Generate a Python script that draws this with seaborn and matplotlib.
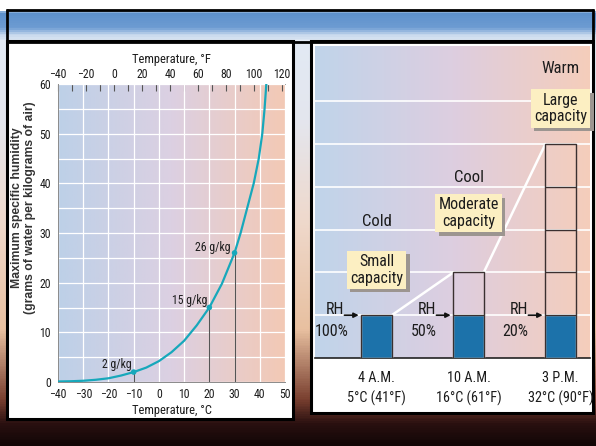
import numpy as np
import pandas as pd
import matplotlib
matplotlib.use('Agg')
import matplotlib.pyplot as plt
import matplotlib.patheffects as pe
import seaborn as sns
from matplotlib.colors import LinearSegmentedColormap
from matplotlib.patches import Rectangle
from matplotlib.ticker import MultipleLocator

# --- datos panel izquierdo (curva de humedad especifica maxima) ---
temp_c = [-40, -35, -30, -25, -20, -15, -10, -5, 0, 5, 10, 15, 20, 25, 30,
          32.4, 35, 37.6, 39.6, 41, 41.9, 42.6]
humidity = [0.1, 0.15, 0.25, 0.45, 0.75, 1.3, 2, 2.9, 4.2, 6.0, 8.3, 11.4, 15,
            19.8, 26, 30, 35, 40, 45, 50, 55, 60]
mark_t = [-10, 20, 30]
mark_q = [2, 15, 26]
mark_labels = ['2 g/kg', '15 g/kg', '26 g/kg']

# --- datos panel derecho (capacidad del aire) ---
time_labels = ['4 A.M.\n5°C (41°F)', '10 A.M.\n16°C (61°F)', '3 P.M.\n32°C (90°F)']
temp_class = ['Cold', 'Cool', 'Warm']
cap_labels = ['Small\ncapacity', 'Moderate\ncapacity', 'Large\ncapacity']
capacity = [1, 2, 5]
vapor = [1, 1, 1]

W, H = 596, 446
NARROW = ['Roboto Condensed', 'Lato', 'DejaVu Sans']
sns.set_style('white')
plt.rcParams['font.family'] = NARROW
TXT = '#1c1c1c'

fig = plt.figure(figsize=(W / 100, H / 100), dpi=100)

# fondo (cielo / atardecer) en coordenadas de pixel
bg = fig.add_axes([0, 0, 1, 1])
bg.set_zorder(-5)
bg_cmap = LinearSegmentedColormap.from_list('bg', [
    (0.0, '#ffffff'), (9 / H, '#ffffff'), (11 / H, '#5b8fcb'), (27 / H, '#6f9dd3'),
    (33 / H, '#c4d6ec'), (40 / H, '#e2eaf4'), (120 / H, '#e4e6ee'), (220 / H, '#efd9cc'),
    (330 / H, '#e8c0a0'), (400 / H, '#7a4030'), (425 / H, '#2a1010'), (1.0, '#120606')])
bg.imshow(np.linspace(0, 1, H)[:, None], cmap=bg_cmap, extent=[0, W, H, 0],
          aspect='auto', vmin=0, vmax=1)
bg.set_xlim(0, W)
bg.set_ylim(H, 0)
bg.axis('off')
bg.hlines([9.5, 41.5], 6, 594, color='black', lw=2)
bg.vlines([7, 593], 9, 42, color='black', lw=2)
bg.add_patch(Rectangle((7, 41), 286, 378, fc='white', ec='black', lw=2.2))
bg.add_patch(Rectangle((311, 41), 282, 372, fc='white', ec='black', lw=2.2))

# ---------------- panel izquierdo ----------------
axL = fig.add_axes([58 / W, 1 - 382 / H, 227 / W, 298 / H])
grad_l = LinearSegmentedColormap.from_list('gl', ['#bdd0e8', '#dcd0e2', '#f3c9b5'])
axL.imshow(np.linspace(0, 1, 256)[None, :], cmap=grad_l, extent=[-40, 50, 0, 60],
           aspect='auto', zorder=0)
sns.lineplot(x=temp_c, y=humidity, ax=axL, color='#17a8bb', lw=1.6,
             estimator=None, sort=False, zorder=3)
axL.vlines(mark_t, 0, mark_q, color='#555555', lw=0.8, zorder=2)
sns.scatterplot(x=mark_t, y=mark_q, ax=axL, color='#17a8bb', s=16,
                edgecolor='none', zorder=4)
label_pos = [(-16.8, 3.6), (12.2, 16.4), (21.4, 27.1)]
for lab, (lx, ly) in zip(mark_labels, label_pos):
    axL.text(lx, ly, lab, ha='center', va='center', fontsize=8.5, color=TXT)

axL.set_xlim(-40, 50)
axL.set_ylim(0, 60)
axL.set_xticks(range(-40, 51, 10))
axL.set_yticks(range(0, 61, 10))
axL.yaxis.set_minor_locator(MultipleLocator(5))
axL.grid(True, which='major', color='white', lw=0.9)
axL.grid(True, which='minor', axis='y', color='white', lw=0.9)
axL.set_axisbelow(True)
axL.tick_params(which='both', length=0, labelsize=8.5, labelcolor=TXT)
axL.tick_params(axis='x', pad=4.5)
axL.tick_params(axis='y', pad=5)
for s in ['right', 'top']:
    axL.spines[s].set_visible(False)
for s in ['left', 'bottom']:
    axL.spines[s].set_color('#8a8a8a')
    axL.spines[s].set_linewidth(0.7)
axL.set_xlabel('Temperature, °C', fontsize=9, color=TXT, labelpad=2)
axL.set_ylabel('Maximum specific humidity\n(grams of water per kilograms of air)',
               fontsize=8.8, fontweight='bold', color='#333333', linespacing=1.15,
               family=['Liberation Sans', 'DejaVu Sans'])
axL.yaxis.set_label_coords(-0.095, 0.585)

sec = axL.secondary_xaxis('top', functions=(lambda c: c * 9 / 5 + 32,
                                            lambda f: (f - 32) * 5 / 9))
sec.set_xticks(range(-40, 121, 20))
sec.xaxis.set_minor_locator(MultipleLocator(10))
sec.tick_params(which='both', direction='in', length=5, width=0.8, color='#555555',
                labelsize=8.5, labelcolor=TXT, pad=2)
sec.spines['top'].set_color('#8a8a8a')
sec.spines['top'].set_linewidth(0.6)
sec.set_xlabel('Temperature, °F', fontsize=9, color=TXT, labelpad=4)

# ---------------- panel derecho ----------------
axR = fig.add_axes([315 / W, 1 - 358 / H, 275 / W, 312 / H])
bar_w = 0.33
x_lo, x_hi, y_hi = -0.67, 2.32, 7.29
grad_r = LinearSegmentedColormap.from_list('gr', ['#c0d4ea', '#ddcee0', '#f5cdbb'])
axR.imshow(np.linspace(0, 1, 256)[None, :], cmap=grad_r, extent=[x_lo, x_hi, 0, y_hi],
           aspect='auto', zorder=0)

df_r = pd.DataFrame({'time': time_labels, 'capacity': capacity, 'vapor': vapor})
sns.barplot(data=df_r, x='time', y='vapor', ax=axR, color='#1c72aa', saturation=1,
            width=bar_w, errorbar=None, zorder=3)
sns.barplot(data=df_r, x='time', y='capacity', ax=axR, color='#3a3030', fill=False,
            width=bar_w, errorbar=None, linewidth=1, zorder=4)
for i, cap in enumerate(capacity):
    if cap > 1:
        axR.hlines(range(1, cap), i - bar_w / 2, i + bar_w / 2, color='#3a3030',
                   lw=1, zorder=4)

# lineas blancas que unen las capacidades
for i in range(len(capacity) - 1):
    axR.plot([i + bar_w / 2, i + 1 - bar_w / 2], [capacity[i], capacity[i + 1]],
             color='white', lw=1.8, zorder=2.5)

shadow_fx = [pe.withSimplePatchShadow(offset=(2.5, -2.5), shadow_rgbFace='#9c9590',
                                      alpha=1.0)]
class_y = [3.18, 4.21, 6.77]
box_y = [2.06, 3.38, 5.83]
for i in range(len(capacity)):
    rh = round(100 * vapor[i] / capacity[i])
    axR.text(i - 0.45, 1.13, 'RH', ha='center', va='center', fontsize=11.5, color=TXT)
    axR.text(i - 0.49, 0.61, f'{rh}%', ha='center', va='center', fontsize=11.5,
             color=TXT)
    axR.annotate('', xy=(i - bar_w / 2 - 0.03, vapor[i]), xytext=(i - 0.35, vapor[i]),
                 arrowprops=dict(arrowstyle='-|>', color='#111111', lw=1.2,
                                 mutation_scale=7, shrinkA=0, shrinkB=0))
    axR.text(i, class_y[i], temp_class[i], ha='center', va='center', fontsize=12,
             color=TXT)
    t = axR.text(i, box_y[i], cap_labels[i], ha='center', va='center', fontsize=11.5,
                 color=TXT, linespacing=1.15, zorder=6,
                 bbox=dict(boxstyle='square,pad=0.2', fc='#fcefc2', ec='none'))
    t.get_bbox_patch().set_path_effects(shadow_fx)

axR.set_xlim(x_lo, x_hi)
axR.set_ylim(0, y_hi)
axR.set_yticks(range(1, 7))
axR.set_yticklabels([])
axR.grid(True, axis='y', color='white', lw=1.2)
axR.grid(False, axis='x')
axR.set_axisbelow(True)
axR.set_xticks(range(len(time_labels)))
axR.set_xticklabels(time_labels, fontsize=10.3, color=TXT, linespacing=1.55)
axR.tick_params(length=0)
axR.tick_params(axis='x', pad=9)
axR.set_xlabel('')
axR.set_ylabel('')
for s in ['left', 'right', 'top']:
    axR.spines[s].set_visible(False)
axR.spines['bottom'].set_color('#222222')
axR.spines['bottom'].set_linewidth(1.2)

fig.savefig('out.png', dpi=100)
